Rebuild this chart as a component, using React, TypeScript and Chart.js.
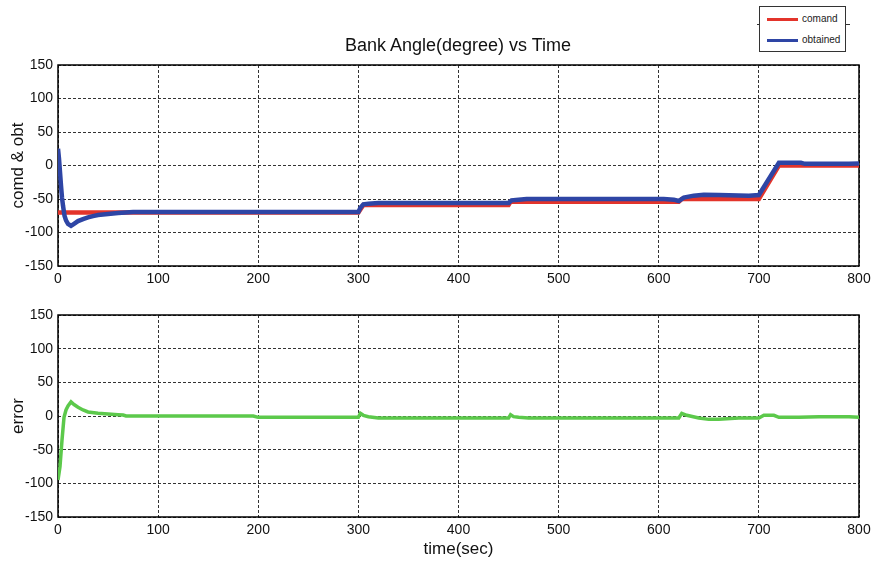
import React, { useEffect, useRef } from "react";
import { Chart, registerables } from "chart.js";
Chart.register(...registerables);

// Command bank angle (red)
const cmdTime = [0, 300, 305, 450, 452, 620, 623, 700, 720, 800];
const cmdValue = [-70, -70, -59, -59, -54, -54, -50, -50, 0, 0];

// Obtained bank angle (blue)
const obtTime = [0, 1, 2, 3, 4, 5, 6.5, 8, 10, 13, 16, 20, 25, 30, 35, 40, 50, 60, 75, 100, 300, 302, 305, 310, 320, 450, 453, 460, 468, 605, 615, 620, 625, 635, 645, 660, 690, 700, 720, 742, 746, 790, 800];
const obtValue = [25, 10, -10, -30, -48, -60, -75, -82, -87, -90, -87, -83, -80, -77.5, -75.5, -74, -72.5, -71, -69.5, -69.5, -69.5, -63, -58, -57, -56, -56, -52, -51, -50, -50, -51, -53, -48, -45, -43.5, -44, -45, -44, 4, 4, 2.5, 2.5, 3];

// Error (green)
const errTime = [0, 2, 4, 6, 8, 10, 13, 16, 20, 25, 30, 40, 50, 60, 65, 68, 195, 200, 300, 302, 305, 310, 320, 450, 452, 455, 460, 470, 620, 623, 628, 640, 650, 660, 680, 700, 705, 715, 720, 740, 760, 790, 800];
const errValue = [-95, -75, -36, -2, 9, 15, 21, 17, 13, 9, 6, 4, 3, 2, 1.5, 0, 0, -2, -2, 4, 1, -1, -3, -3, 2, -1, -2, -3, -3, 4, 1, -3, -5, -5, -3, -3, 1, 1, -2, -2, -1, -1, -2];

const yMin = -150;
const yMax = 150;
const yStep = 50;
const xMin = 0;
const xMax = 800;
const xStep = 100;

const FONT = "'Liberation Sans', Arial, Helvetica, sans-serif";

const pts = (t: number[], v: number[]) => t.map((x, i) => ({ x, y: v[i] }));

const framePlugin = {
  id: "frame",
  beforeDatasetsDraw(chart: any) {
    const { ctx, chartArea: a } = chart;
    ctx.save();
    ctx.strokeStyle = "#000";
    ctx.lineWidth = 1.5;
    ctx.setLineDash([]);
    ctx.strokeRect(a.left, a.top, a.right - a.left, a.bottom - a.top);
    ctx.restore();
  },
};

function makeOptions(yTitle: string, xTitle: string | null, padTop: number, xHeight: number) {
  return {
    animation: false,
    responsive: false,
    maintainAspectRatio: false,
    layout: { padding: { top: padTop, right: 20, left: 0, bottom: 0 } },
    plugins: { legend: { display: false }, tooltip: { enabled: false }, title: { display: false } },
    elements: { point: { radius: 0 }, line: { tension: 0 } },
    scales: {
      x: {
        type: "linear",
        min: xMin,
        max: xMax,
        afterFit: (s: any) => {
          s.height = xHeight;
        },
        ticks: {
          stepSize: xStep,
          autoSkip: false,
          maxRotation: 0,
          padding: 5,
          color: "#111",
          font: { family: FONT, size: 14 },
        },
        grid: { color: "#333", lineWidth: 1, drawTicks: false },
        border: { display: false, dash: [3, 2] },
        title: xTitle
          ? { display: true, text: xTitle, color: "#111", font: { family: FONT, size: 17 }, padding: { top: 3 } }
          : { display: false },
      },
      y: {
        min: yMin,
        max: yMax,
        afterFit: (s: any) => {
          s.width = 58;
        },
        ticks: {
          stepSize: yStep,
          padding: 5,
          color: "#111",
          font: { family: FONT, size: 14 },
        },
        grid: { color: "#333", lineWidth: 1, drawTicks: false },
        border: { display: false, dash: [3, 2] },
        title: { display: true, text: yTitle, color: "#111", font: { family: FONT, size: 17 }, padding: { top: 8 } },
      },
    },
  } as any;
}

export default function App() {
  const topRef = useRef<HTMLCanvasElement>(null);
  const botRef = useRef<HTMLCanvasElement>(null);

  useEffect(() => {
    const c1 = new Chart(topRef.current!, {
      type: "line",
      data: {
        datasets: [
          {
            label: "comand",
            data: pts(cmdTime, cmdValue),
            borderColor: "#e3342b",
            borderWidth: 4.5,
            fill: false,
            order: 2,
          },
          {
            label: "obtained",
            data: pts(obtTime, obtValue),
            borderColor: "#2e45a5",
            borderWidth: 4.5,
            fill: false,
            order: 1,
          },
        ],
      },
      options: makeOptions("comd & obt", null, 65, 24),
      plugins: [framePlugin],
    });
    const c2 = new Chart(botRef.current!, {
      type: "line",
      data: {
        datasets: [
          {
            label: "error",
            data: pts(errTime, errValue),
            borderColor: "#5cc94b",
            borderWidth: 3.5,
            fill: false,
          },
        ],
      },
      options: makeOptions("error", "time(sec)", 25, 47),
      plugins: [framePlugin],
    });
    return () => {
      c1.destroy();
      c2.destroy();
    };
  }, []);

  return (
    <div style={{ position: "absolute", left: 0, top: 0, width: 879, height: 564, background: "#fff", overflow: "hidden", fontFamily: FONT }}>
      <canvas ref={topRef} width={879} height={290} style={{ position: "absolute", left: 0, top: 0, width: 879, height: 290, display: "block" }} />
      <canvas ref={botRef} width={879} height={274} style={{ position: "absolute", left: 0, top: 290, width: 879, height: 274, display: "block" }} />
      <div style={{ position: "absolute", left: 258, width: 400, top: 34, textAlign: "center", fontSize: 18, color: "#111", lineHeight: "22px" }}>
        Bank Angle(degree) vs Time
      </div>
      <div style={{ position: "absolute", left: 757, top: 24, width: 93, height: 1, background: "#333" }} />
      <div style={{ position: "absolute", left: 759, top: 6, width: 85, height: 44, border: "1px solid #333", background: "#fff" }}>
        <div style={{ position: "absolute", left: 7, top: 11, width: 31, height: 3, background: "#e3342b" }} />
        <div style={{ position: "absolute", left: 42, top: 5, fontSize: 10, lineHeight: "14px", color: "#222" }}>comand</div>
        <div style={{ position: "absolute", left: 7, top: 32, width: 31, height: 3, background: "#2e45a5" }} />
        <div style={{ position: "absolute", left: 42, top: 26, fontSize: 10, lineHeight: "14px", color: "#222" }}>obtained</div>
      </div>
    </div>
  );
}
